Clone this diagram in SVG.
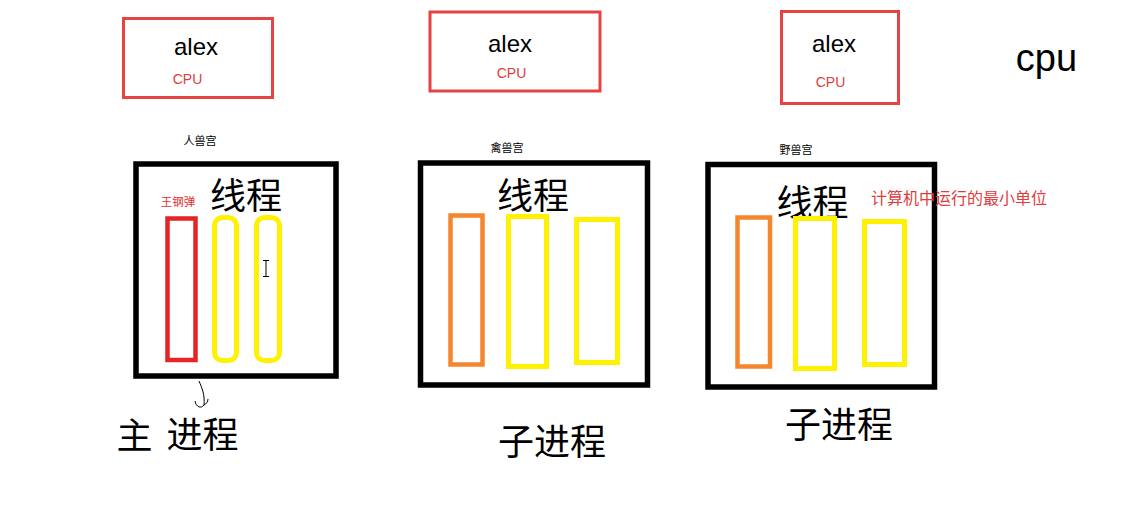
<svg xmlns="http://www.w3.org/2000/svg" width="1123" height="514" viewBox="0 0 1123 514">
<style>
.cpu{fill:none;stroke:#e84343;stroke-width:3}
.proc{fill:none;stroke:#000;stroke-width:5.5}
.red{fill:none;stroke:#e52424;stroke-width:4.5}
.org{fill:none;stroke:#f5862c;stroke-width:4.5}
.yel{fill:none;stroke:#fff200;stroke-width:5}
.lat{font-family:"Liberation Sans",Arial,sans-serif}
.cjk{font-family:"Noto Sans CJK SC","Noto Sans",sans-serif}
.alex{font-size:24px;fill:#000;text-anchor:middle}
.ct{font-size:14px;fill:#e03c3c;text-anchor:middle}
.sm{font-size:11px;fill:#000;text-anchor:middle}
.big{font-size:36px;fill:#000;text-anchor:middle}
</style>
<rect width="1123" height="514" fill="#fff"/>
<g id="cpu1">
<rect class="cpu" x="123.5" y="18.5" width="149" height="79"/>
<text class="lat alex" x="196" y="55">alex</text>
<text class="lat ct" x="187.5" y="84">CPU</text>
</g>
<g id="cpu2">
<rect class="cpu" x="430" y="12" width="170" height="79"/>
<text class="lat alex" x="510" y="52">alex</text>
<text class="lat ct" x="511.5" y="78">CPU</text>
</g>
<g id="cpu3">
<rect class="cpu" x="781.5" y="11.5" width="117" height="92"/>
<text class="lat alex" x="834" y="52">alex</text>
<text class="lat ct" x="830.5" y="87">CPU</text>
</g>
<text id="cpu-label" class="lat" x="1046.5" y="71" font-size="38" text-anchor="middle" fill="#000">cpu</text>
<g id="process1">
<text class="cjk sm" x="200" y="145">人兽宫</text>
<rect class="proc" x="136" y="164" width="200" height="212"/>
<text class="cjk big" x="246" y="209">线程</text>
<text class="cjk" x="178" y="206" font-size="11.5" fill="#e03030" text-anchor="middle">王钢弹</text>
<rect class="red" x="167.5" y="218.5" width="28" height="141.5"/>
<rect class="yel" x="214.5" y="217.5" width="22" height="143" rx="8"/>
<rect class="yel" x="256.5" y="217.5" width="23" height="143" rx="8"/>
<path d="M263,260.5 H269 M266,260.5 V276.5 M263,276.5 H269" stroke="#000" stroke-width="1" fill="none"/>
<text class="cjk big" x="134.5" y="449">主</text>
<text class="cjk big" x="202.5" y="448">进程</text>
<path d="M199,381 C202,388 205,395 204,405 C201,409 196,407 195,401 M204,405 C206,404 208,402 208,399" stroke="#000" stroke-width="1" fill="none"/>
</g>
<g id="process2">
<text class="cjk sm" x="507" y="152">禽兽宫</text>
<rect class="proc" x="420.5" y="163" width="227" height="222"/>
<text class="cjk big" x="533" y="209">线程</text>
<rect class="org" x="450.5" y="215.5" width="32" height="149"/>
<rect class="yel" x="508.5" y="216.5" width="38" height="150"/>
<rect class="yel" x="576.5" y="219.5" width="41" height="143"/>
<text class="cjk big" x="552" y="455">子进程</text>
</g>
<g id="process3">
<text class="cjk sm" x="796" y="154">野兽宫</text>
<rect class="proc" x="708" y="164.5" width="226.5" height="222.5"/>
<text class="cjk big" x="812.5" y="216">线程</text>
<text class="cjk" x="871" y="204" font-size="16" fill="#e03c3c">计算机中运行的最小单位</text>
<rect class="org" x="737.5" y="217.5" width="32.5" height="149"/>
<rect class="yel" x="795.5" y="218.5" width="39" height="150"/>
<rect class="yel" x="864.5" y="221.5" width="40" height="143"/>
<text class="cjk big" x="839" y="438">子进程</text>
</g>
<g id="connectors"></g>
</svg>
